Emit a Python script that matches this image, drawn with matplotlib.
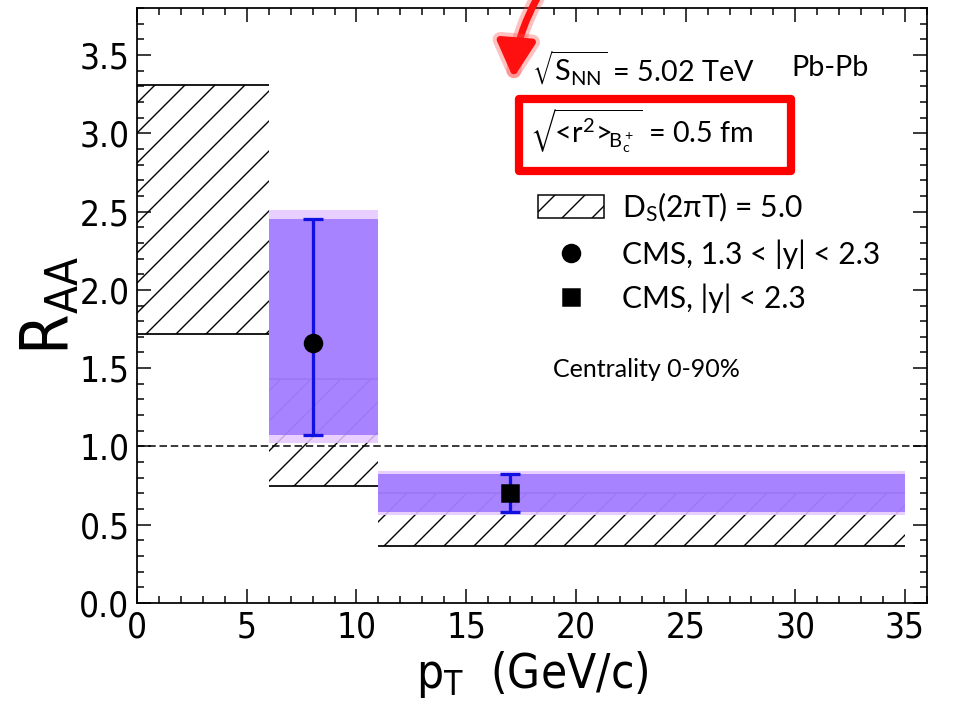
import matplotlib
matplotlib.use("Agg")
import matplotlib.pyplot as plt
from matplotlib.patches import Patch, Rectangle
from matplotlib.lines import Line2D
from matplotlib.ticker import MultipleLocator
from matplotlib import font_manager
import matplotlib.patheffects as pe

# ---------------- data ----------------
bin_left = [0, 6, 11]
bin_right = [6, 11, 35]
theory_low = [1.72, 0.75, 0.365]
theory_high = [3.31, 1.43, 0.70]

cms_bin_left = [6, 11]
cms_bin_right = [11, 35]
cms_sys_low = [1.075, 0.58]
cms_sys_high = [2.455, 0.825]
cms_sys_outer_low = [1.02, 0.565]
cms_sys_outer_high = [2.51, 0.84]

cms_x = [8, 17]
cms_y = [1.66, 0.70]
cms_err_low = [1.075, 0.58]
cms_err_high = [2.455, 0.825]
cms_markers = ["o", "s"]

xticks = [0, 5, 10, 15, 20, 25, 30, 35]
yticks = [0.0, 0.5, 1.0, 1.5, 2.0, 2.5, 3.0, 3.5]

# ---------------- style ----------------
DPI = 180
plt.rcParams["font.family"] = ["Lato", "DejaVu Sans"]
plt.rcParams["mathtext.default"] = "regular"
plt.rcParams["hatch.linewidth"] = 0.55
plt.rcParams["axes.linewidth"] = 0.7

names = {f.name for f in font_manager.fontManager.ttflist}
cond = [f for f in font_manager.fontManager.ttflist
        if f.name == "DejaVu Sans" and "ondensed" in f.fname and "Bold" not in f.fname
        and "Oblique" not in f.fname]
if "Liberation Sans Narrow" in names:
    TICKFP = dict(family="Liberation Sans Narrow")
elif cond:
    TICKFP = dict(family="DejaVu Sans", stretch="condensed")
else:
    TICKFP = dict(family="Roboto")

fig = plt.figure(figsize=(971 / DPI, 723 / DPI), dpi=DPI)
ax = fig.add_axes([137 / 971, (723 - 603) / 723, 790 / 971, 595 / 723])
ax.set_xlim(0, 36)
ax.set_ylim(0, 3.8)

purple = (0.56, 0.40, 1.0)
light_purple = (0.90, 0.78, 1.0)

# theory hatched boxes
for l, r, lo, hi in zip(bin_left, bin_right, theory_low, theory_high):
    ax.bar(l, hi - lo, width=r - l, bottom=lo, align="edge",
           facecolor="none", edgecolor="black", hatch="//", linewidth=0, zorder=1)
    ax.hlines([lo, hi], l, r, colors="black", linewidth=0.7, zorder=1)

# CMS systematic boxes
for l, r, lo, hi in zip(cms_bin_left, cms_bin_right, cms_sys_outer_low, cms_sys_outer_high):
    ax.bar(l, hi - lo, width=r - l, bottom=lo, align="edge",
           color=light_purple, alpha=0.85, linewidth=0, zorder=2)
for l, r, lo, hi in zip(cms_bin_left, cms_bin_right, cms_sys_low, cms_sys_high):
    ax.bar(l, hi - lo, width=r - l, bottom=lo, align="edge",
           color=purple, alpha=0.72, linewidth=0, zorder=3)

# unity line
ax.axhline(1.0, color="black", linestyle=(0, (5, 2.5)), linewidth=0.6, zorder=4)

# CMS points
for x, y, lo, hi, m in zip(cms_x, cms_y, cms_err_low, cms_err_high, cms_markers):
    ax.errorbar([x], [y], yerr=[[y - lo], [hi - y]], fmt="none", ecolor="#1010e0",
                elinewidth=1.3, capsize=4, capthick=1.3, zorder=5)
    ax.plot([x], [y], marker=m, color="black", markersize=6.8 if m == "o" else 6.4,
            linestyle="none", zorder=6)

# ticks
ax.xaxis.set_major_locator(MultipleLocator(5))
ax.xaxis.set_minor_locator(MultipleLocator(1))
ax.yaxis.set_major_locator(MultipleLocator(0.5))
ax.yaxis.set_minor_locator(MultipleLocator(0.1))
ax.set_xticks(xticks)
ax.set_yticks(yticks)
ax.set_xticklabels([str(v) for v in xticks])
ax.set_yticklabels([f"{v:.1f}" for v in yticks])
ax.tick_params(which="both", direction="in", top=True, right=True, width=0.6)
ax.tick_params(which="major", length=5.5, labelsize=14, pad=3)
ax.tick_params(which="minor", length=2.8)
for lab in ax.get_xticklabels() + ax.get_yticklabels():
    lab.set(**TICKFP)

ax.set_xlabel("p$_T$  (GeV/c)", fontsize=19, labelpad=2, **TICKFP)
ax.set_ylabel("R$_{AA}$", fontsize=26, labelpad=-1, **TICKFP)

# text annotations
ax.text(18.0, 3.42, r"$\sqrt{S_{NN}}$ = 5.02 TeV", fontsize=11.5, va="center", ha="left")
ax.text(29.8, 3.42, "Pb-Pb", fontsize=11.5, va="center", ha="left")
ax.text(17.9, 3.02, r"$\sqrt{\!\!<\!r^2\!>\!\!{}_{B_c^+}}$ = 0.5 fm", fontsize=11.5,
        va="center", ha="left")
ax.text(18.95, 1.49, "Centrality 0-90%", fontsize=10, va="center", ha="left")

# legend
handles = [
    Patch(facecolor="white", edgecolor="black", hatch="//", linewidth=0.6),
    Line2D([], [], marker="o", color="black", linestyle="none", markersize=6.8),
    Line2D([], [], marker="s", color="black", linestyle="none", markersize=6.4),
]
labels = ["D$_S$(2πT) = 5.0", "CMS, 1.3 < |y| < 2.3", "CMS, |y| < 2.3"]
ax.legend(handles, labels, loc="upper left", bbox_to_anchor=(18.27, 2.635),
          bbox_transform=ax.transData, frameon=False, fontsize=12,
          borderpad=0, borderaxespad=0, handlelength=2.2, handleheight=0.8,
          handletextpad=0.6, labelspacing=0.5)

# red highlight box (annotation)
fig.patches.append(Rectangle((519, 723 - 171), 272, 72, transform=None,
                             fill=False, edgecolor="#ff0000", linewidth=3.3,
                             joinstyle="round", zorder=10))
# red arrow from top
ax.annotate("", xy=(513, 723 - 83), xytext=(540, 730),
            xycoords="figure pixels", textcoords="figure pixels",
            arrowprops=dict(arrowstyle="-|>,head_length=1.2,head_width=0.65",
                            color="#ff1010", lw=2.8,
                            connectionstyle="arc3,rad=0.12",
                            path_effects=[pe.withStroke(linewidth=6, foreground=(1, 0.3, 0.3, 0.35))]),
            annotation_clip=False)

fig.savefig("out.png", dpi=DPI, facecolor="white")
